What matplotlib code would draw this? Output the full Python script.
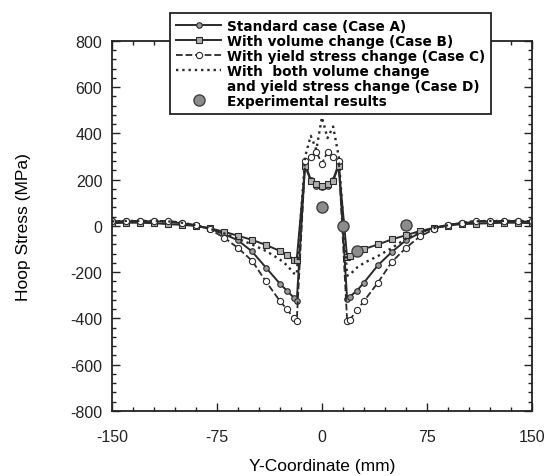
import matplotlib.pyplot as plt
from matplotlib.lines import Line2D
from matplotlib.ticker import MultipleLocator

# posiciones (mm) a lo largo de la coordenada Y
y_coord = [-150, -140, -130, -120, -110, -100, -90, -80, -70, -60, -50, -40, -30, -25, -20, -18,
           -12, -8, -4, 0, 4, 8, 12,
           18, 20, 25, 30, 40, 50, 60, 70, 80, 90, 100, 110, 120, 130, 140, 150]

# esfuerzo tangencial (MPa) para cada caso
caso_a = [18, 20, 20, 20, 18, 12, 2, -12, -35, -62, -110, -180, -250, -280, -310, -325,
          270, 200, 175, 170, 175, 200, 270,
          -315, -305, -280, -245, -170, -112, -62, -30, -8, 5, 12, 18, 20, 20, 20, 18]
caso_b = [12, 14, 14, 12, 8, 5, 0, -10, -25, -42, -60, -82, -108, -125, -145, -145,
          260, 195, 180, 175, 180, 195, 260,
          -135, -130, -115, -100, -80, -58, -40, -22, -8, 2, 8, 10, 12, 14, 14, 12]
caso_c = [20, 22, 22, 22, 22, 15, 3, -15, -50, -95, -150, -240, -325, -360, -400, -410,
          280, 300, 320, 270, 320, 300, 280,
          -410, -405, -365, -325, -245, -155, -95, -45, -15, 3, 15, 22, 22, 22, 22, 20]
caso_d = [20, 22, 22, 22, 20, 14, 3, -12, -32, -55, -80, -108, -145, -170, -205, -210,
          300, 390, 330, 470, 380, 430, 300,
          -215, -210, -180, -160, -130, -95, -55, -28, -10, 3, 14, 20, 22, 22, 22, 20]

# resultados experimentales
exp_x = [0, 15, 25, 60]
exp_y = [82, 0, -108, 5]

plt.rcParams['font.family'] = ['Liberation Sans', 'DejaVu Sans']
plt.rcParams['axes.unicode_minus'] = False

fig = plt.figure(figsize=(5.54, 4.77), dpi=100)
ax = fig.add_axes([0.2022, 0.1363, 0.7578, 0.7757])

col = '#2a2a2a'
ax.plot(y_coord, caso_a, '-', color=col, lw=1.4, marker='o', ms=4,
        mfc='#9a9a9a', mec=col, mew=0.8, label='Standard case (Case A)')
ax.plot(y_coord, caso_b, '-', color=col, lw=1.4, marker='s', ms=4,
        mfc='#b0b0b0', mec=col, mew=0.8, label='With volume change (Case B)')
ax.plot(y_coord, caso_c, '--', color=col, lw=1.3, marker='o', ms=4.5,
        mfc='white', mec=col, mew=0.8, label='With yield stress change (Case C)')
ax.plot(y_coord, caso_d, ':', color=col, lw=1.7, label='With  both volume change')
ax.plot(exp_x, exp_y, 'o', ms=8, mfc='#8c8c8c', mec='#404040', mew=1.0, ls='none',
        label='Experimental results', zorder=5)

ax.set_xlim(-150, 150)
ax.set_ylim(-800, 800)
ax.xaxis.set_major_locator(MultipleLocator(75))
ax.xaxis.set_minor_locator(MultipleLocator(15))
ax.yaxis.set_major_locator(MultipleLocator(200))
ax.yaxis.set_minor_locator(MultipleLocator(40))
ax.tick_params(which='both', direction='in', top=True, right=True, width=1.0, colors='#222222')
ax.tick_params(which='major', length=6)
ax.tick_params(which='minor', length=3)
ax.tick_params(axis='x', pad=13, labelsize=11.5)
ax.tick_params(axis='y', pad=7, labelsize=11.5)
for s in ax.spines.values():
    s.set_linewidth(1.3)
    s.set_color('#222222')

ax.set_xlabel('Y-Coordinate (mm)', fontsize=12.5, labelpad=10)
ax.set_ylabel('Hoop Stress (MPa)', fontsize=12.5, labelpad=28)

# leyenda: la entrada del caso D ocupa dos renglones
h, l = ax.get_legend_handles_labels()
extra = Line2D([], [], ls='none')
handles = h[:4] + [extra] + h[4:]
labels = l[:4] + ['and yield stress change (Case D)'] + l[4:]
leg = fig.legend(handles, labels, loc='upper left', bbox_to_anchor=(0.307, 0.971),
                 prop={'family': 'DejaVu Sans', 'size': 9.8, 'weight': 'bold'},
                 frameon=True, fancybox=False, framealpha=1, edgecolor='#222222',
                 handlelength=3.3, handletextpad=0.4,
                 labelspacing=0.07, borderpad=0.45, borderaxespad=0)
leg.get_frame().set_linewidth(1.3)

fig.savefig('out.png', dpi=100)
